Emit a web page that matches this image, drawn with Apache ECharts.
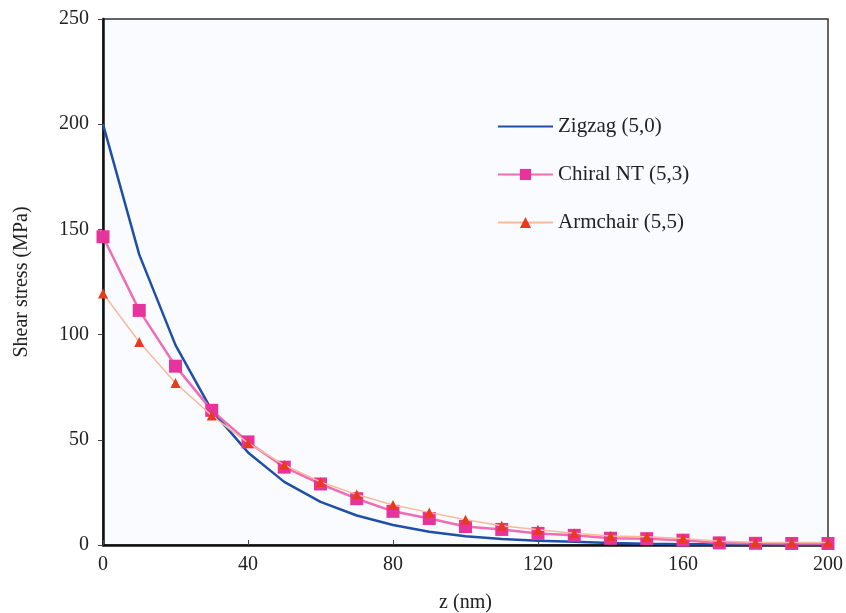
<!DOCTYPE html>
<html>
<head>
<meta charset="utf-8">
<script src="https://cdn.jsdelivr.net/npm/echarts@6/dist/echarts.min.js"></script>
<style>html,body{margin:0;padding:0;background:#fff}#c{width:846px;height:613px}</style>
</head>
<body>
<div id="c"></div>
<script>
var zValues = [0,10,20,30,40,50,60,70,80,90,100,110,120,130,140,150,160,170,180,190,200];
var zigzag = [200,138,95,64,44,30,20.5,14,9.5,6.3,4.2,2.8,2.0,1.5,1.0,0.6,0.4,0.3,0.2,0.1,0.1];
var chiral = [146.5,111.5,85,64,49,37,29,22,16,12.6,8.8,7.4,5.5,4.6,3.2,3.0,2.3,1.0,0.8,0.7,0.7];
var armchair = [119.5,96.5,77,61.5,48.5,38,30,24,19,15.5,12,9.2,7.2,5.6,4.3,3.9,3.1,1.8,1.3,1.2,1.2];
var seriesNames = ['Zigzag (5,0)','Chiral NT (5,3)','Armchair (5,5)'];

function pairs(v){ return zValues.map(function(z,i){ return [z, v[i]]; }); }
var font = 'Liberation Serif';
var chart = echarts.init(document.getElementById('c'));
chart.setOption({
  backgroundColor: '#ffffff',
  animation: false,
  grid: { left: 103, right: 18, top: 19, bottom: 68, outerBoundsMode: 'none', containLabel: false,
          show: true, backgroundColor: '#fafbfe', borderColor: '#333', borderWidth: 1.5 },
  legend: {
    orient: 'vertical', left: 497, top: 116, padding: 0,
    itemWidth: 55, itemHeight: 14, itemGap: 27,
    textStyle: { fontFamily: font, fontSize: 21, color: '#222', lineHeight: 21 },
    data: [
      { name: seriesNames[0], itemStyle: { opacity: 0 } },
      { name: seriesNames[1] },
      { name: seriesNames[2] }
    ]
  },
  xAxis: {
    type: 'value', min: 0, max: 200, interval: 40,
    name: 'z (nm)', nameLocation: 'middle', nameGap: 48,
    nameTextStyle: { fontFamily: font, fontSize: 20, color: '#222' },
    axisLine: { show: true, lineStyle: { color: '#111', width: 2.5 } },
    axisTick: { show: true, inside: true, length: 5, lineStyle: { color: '#444' } },
    axisLabel: { fontFamily: font, fontSize: 20, color: '#222', margin: 10 },
    splitLine: { show: false }
  },
  yAxis: {
    type: 'value', min: 0, max: 250, interval: 50,
    name: 'Shear stress (MPa)', nameLocation: 'middle', nameGap: 71, nameRotate: 90,
    nameTextStyle: { fontFamily: font, fontSize: 20, color: '#222' },
    axisLine: { show: true, lineStyle: { color: '#111', width: 2.5 } },
    axisTick: { show: true, inside: false, length: 5, lineStyle: { color: '#444' } },
    axisLabel: { fontFamily: font, fontSize: 20, color: '#222', margin: 14 },
    splitLine: { show: false }
  },
  series: [
    { name: seriesNames[0], type: 'line', data: pairs(zigzag), smooth: false, symbol: 'none',
      lineStyle: { color: '#1f4fa8', width: 2.5 }, itemStyle: { color: '#1f4fa8' }, z: 3 },
    { name: seriesNames[1], type: 'line', data: pairs(chiral), symbol: 'rect', symbolSize: 13,
      lineStyle: { color: '#f06cb4', width: 2.5 }, itemStyle: { color: '#e6349c' }, z: 4 },
    { name: seriesNames[2], type: 'line', data: pairs(armchair), symbol: 'triangle', symbolSize: 10,
      lineStyle: { color: '#f9b99b', width: 1.5 }, itemStyle: { color: '#e83a1e' }, z: 5 }
  ]
});
</script>
</body>
</html>
